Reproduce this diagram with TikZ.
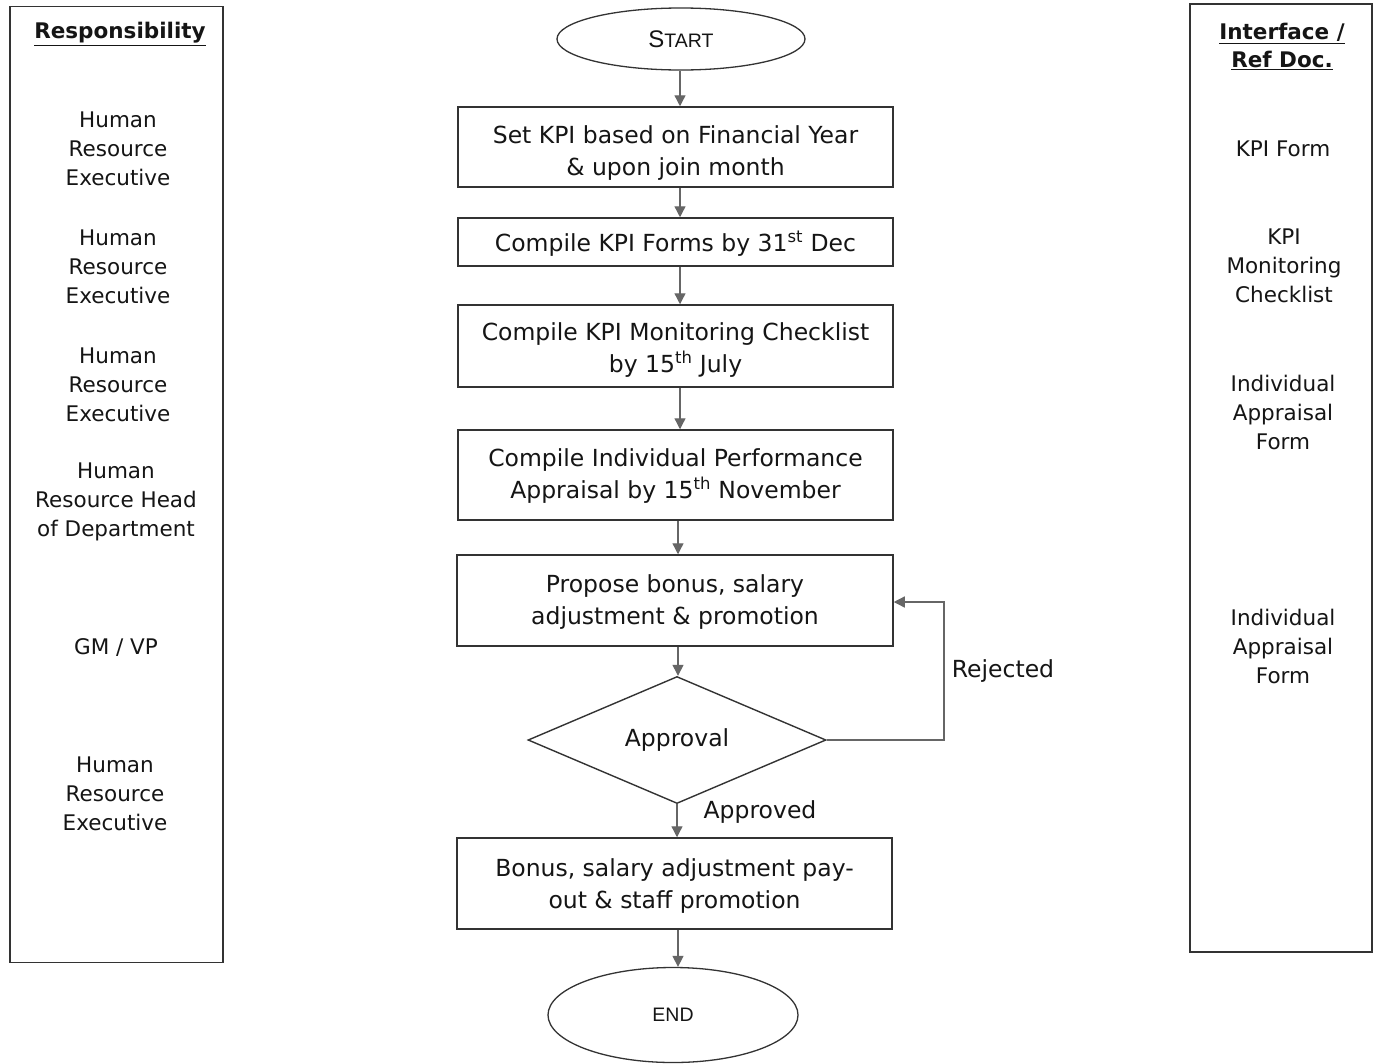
\documentclass[tikz,border=0pt]{standalone}
\usepackage{fontspec}
\setmainfont{DejaVu Sans}
\newfontfamily\arialf{Liberation Sans}
\usetikzlibrary{shapes.geometric,arrows.meta}
\definecolor{ink}{HTML}{151515}
\definecolor{edge}{HTML}{333333}
\definecolor{arrowc}{HTML}{666666}
\tikzset{
  procbox/.style={draw=edge,line width=1.5pt,rectangle,minimum width=435pt,inner sep=0pt},
  boxtext/.style={align=center,text=ink,font=\fontsize{23.5}{32}\selectfont,inner sep=0pt},
  term/.style={draw=edge,line width=1.3pt,ellipse,inner sep=0pt,text=ink},
  decide/.style={draw=edge,line width=1.4pt,diamond,inner sep=0pt,minimum width=298pt,minimum height=114pt,
    text=ink,font=\fontsize{23.5}{32}\selectfont},
  sidebox/.style={draw=edge,line width=1.3pt,rectangle,inner sep=0pt},
  sidelabel/.style={align=center,text=ink,font=\fontsize{21.5}{29}\selectfont},
  headlabel/.style={align=center,text=ink,font=\bfseries\fontsize{21.5}{28}\selectfont},
  arr/.style={draw=arrowc,line width=1.3pt,-{Triangle[width=11pt,length=11pt]}},
  flowlabel/.style={text=ink,font=\fontsize{23.5}{32}\selectfont}
}
\begin{document}
\begin{tikzpicture}[x=1pt,y=-1pt]
\useasboundingbox[fill=white] (0,0) rectangle (1381,1063);
% side columns
\node[sidebox,minimum width=213pt,minimum height=956pt] (leftcol) at (116.5,484.5) {};
\node[sidebox,minimum width=182pt,minimum height=948pt] (rightcol) at (1281,478) {};
\node[headlabel] (resp) at (120,34) {\underline{Responsibility}};
\node[headlabel] (iface) at (1282,46.5) {\underline{Interface /}\\\underline{Ref Doc.}};
% responsibility labels
\node[sidelabel] (r1) at (118,148.5) {Human\\Resource\\Executive};
\node[sidelabel] (r2) at (118,266.5) {Human\\Resource\\Executive};
\node[sidelabel] (r3) at (118,384.5) {Human\\Resource\\Executive};
\node[sidelabel] (r4) at (116,501.5) {Human\\Resource Head\\of Department};
\node[sidelabel] (r5) at (116,648) {GM / VP};
\node[sidelabel] (r6) at (115,793.5) {Human\\Resource\\Executive};
% interface labels
\node[sidelabel] (d1) at (1283,149) {KPI Form};
\node[sidelabel] (d2) at (1284,265.5) {KPI\\Monitoring\\Checklist};
\node[sidelabel] (d3) at (1283,412.5) {Individual\\Appraisal\\Form};
\node[sidelabel] (d4) at (1283,646.5) {Individual\\Appraisal\\Form};
% flow
\node[term,minimum width=248pt,minimum height=62pt] (start) at (681,39)
  {\arialf\fontsize{24}{24}\selectfont S\fontsize{19.5}{24}\selectfont TART};
\node[procbox,minimum height=80pt,
  label={[boxtext,yshift=-6pt]center:{Set KPI based on Financial Year\\\& upon join month}}] (b1) at (675.5,147) {};
\node[procbox,minimum height=48pt,
  label={[boxtext,yshift=-1.5pt]center:{Compile KPI Forms by 31\textsuperscript{st} Dec}}] (b2) at (675.5,242) {};
\node[procbox,minimum height=82pt,
  label={[boxtext,yshift=-4pt]center:{Compile KPI Monitoring Checklist\\by 15\textsuperscript{th} July}}] (b3) at (675.5,346) {};
\node[procbox,minimum height=90pt,
  label={[boxtext,yshift=-1.5pt]center:{Compile Individual Performance\\Appraisal by 15\textsuperscript{th} November}}] (b4) at (675.5,475) {};
\node[procbox,minimum height=91pt,minimum width=436pt,
  label={[boxtext,yshift=-1.5pt]center:{Propose bonus, salary\\adjustment \& promotion}}] (b5) at (675,600.5) {};
\node[decide] (appr) at (677,740) {\raisebox{-2pt}{Approval}};
\node[procbox,minimum height=91pt,
  label={[boxtext,yshift=-2.5pt]center:{Bonus, salary adjustment pay-\\out \& staff promotion}}] (b6) at (674.5,883.5) {};
\node[term,minimum width=250pt,minimum height=95pt] (end) at (673,1015)
  {\arialf\fontsize{19.5}{24}\selectfont END};
% connectors
\coordinate (c1) at (680,0);
\draw[arr] (start.south -| c1) -- (b1.north -| c1);
\draw[arr] (b1.south -| c1) -- (b2.north -| c1);
\draw[arr] (b2.south -| c1) -- (b3.north -| c1);
\draw[arr] (b3.south -| c1) -- (b4.north -| c1);
\coordinate (c2) at (678,0);
\draw[arr] (b4.south -| c2) -- (b5.north -| c2);
\draw[arr] (b5.south -| c2) -- (appr.north -| c2);
\draw[arr] (appr.south) -- (b6.north -| appr.south);
\coordinate (loopx) at (944,602);
\draw[arr] (appr.east) -| (loopx) -- (b5.east |- loopx);
\draw[arr] (b6.south -| c2) -- (end.north -| c2);
\node[flowlabel] (rej) at (1003,671.5) {Rejected};
\node[flowlabel] (appd) at (760,812) {Approved};
\end{tikzpicture}
\end{document}
